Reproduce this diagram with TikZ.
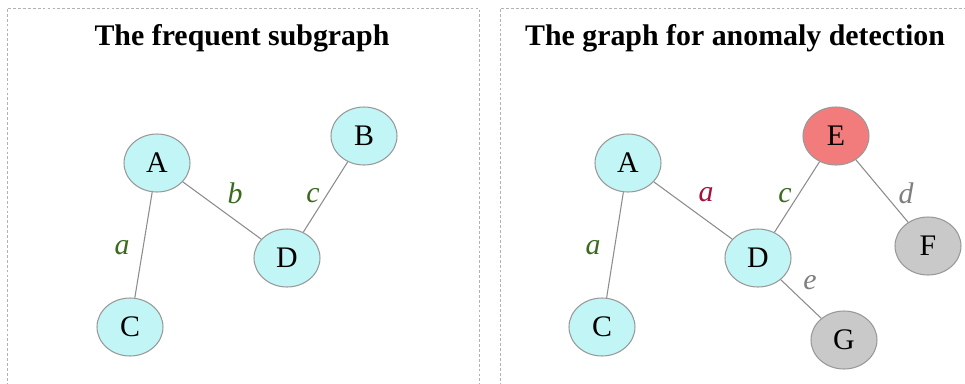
\documentclass[tikz,border=0pt]{standalone}
\usepackage{fontspec}
\setmainfont{Liberation Serif}
\usepackage{xcolor}
\usepackage{tikz}
\usetikzlibrary{shapes.geometric, positioning, calc}

\definecolor{nodecyan}{HTML}{C2F5F5}
\definecolor{nodered}{HTML}{F27C7C}
\definecolor{nodegray}{HTML}{C9C9C9}
\definecolor{labelgreen}{HTML}{3B6A1E}
\definecolor{labelred}{HTML}{A3123A}
\definecolor{labelgray}{HTML}{7F7F7F}

\begin{document}
\begin{tikzpicture}[
    x=0.02cm, y=-0.02cm,
    % ellipse nodes of both graphs
    graphnode/.style={ellipse, draw=gray!80, fill=nodecyan, line width=0.6pt, minimum width=1.32cm, minimum height=1.16cm, inner sep=0pt, font=\fontsize{17}{19}\selectfont},
    rednode/.style={graphnode, fill=nodered},
    graynode/.style={graphnode, fill=nodegray},
    edge/.style={draw=gray!90, line width=0.6pt},
    edgelabel/.style={font=\fontsize{17}{19}\selectfont\itshape, color=labelgreen},
    paneltitle/.style={font=\fontsize{17}{20}\selectfont\bfseries, color=black, anchor=center},
    panel/.style={draw=gray!60, line width=0.5pt, dash pattern=on 1.6pt off 1.2pt}
]
\clip (0,0) rectangle (965,383);
\fill[white] (0,0) rectangle (965,383);

% =========================================================
% PANEL A: FREQUENT SUBGRAPH (Left Side)
% =========================================================
\draw[panel] (7,420) -- (7,8) -- (479,8) -- (479,420);
\node[paneltitle] (title_a) at (242,38) {The frequent subgraph};

\node[graphnode] (a_l) at (157,163) {A};
\node[graphnode] (b_l) at (364,136) {B};
\node[graphnode] (c_l) at (130,327) {C};
\node[graphnode] (d_l) at (287,258) {D};

\draw[edge] (a_l) -- (c_l);
\draw[edge] (a_l) -- (d_l);
\draw[edge] (d_l) -- (b_l);

\node[edgelabel] (lab_ac_l) at (122,248) {a};
\node[edgelabel] (lab_ad_l) at (235,193) {b};
\node[edgelabel] (lab_db_l) at (313,196) {c};

% =========================================================
% PANEL B: ANOMALY DETECTION GRAPH (Right Side)
% =========================================================
\draw[panel] (500,420) -- (500,8) -- (1000,8);
\node[paneltitle] (title_b) at (735,38) {The graph for anomaly detection};

\node[graphnode] (a_r) at (628,163) {A};
\node[rednode] (e_r) at (836,136) {E};
\node[graphnode] (c_r) at (602,327) {C};
\node[graphnode] (d_r) at (758,258) {D};
\node[graynode] (f_r) at (928,246) {F};
\node[graynode] (g_r) at (844,340) {G};

\draw[edge] (a_r) -- (c_r);
\draw[edge] (a_r) -- (d_r);
\draw[edge] (d_r) -- (e_r);
\draw[edge] (e_r) -- (f_r);
\draw[edge] (d_r) -- (g_r);

\node[edgelabel] (lab_ac_r) at (593,248) {a};
\node[edgelabel, color=labelred] (lab_ad_r) at (706,195) {a};
\node[edgelabel] (lab_de_r) at (785,196) {c};
\node[edgelabel, color=labelgray] (lab_ef_r) at (906,193) {d};
\node[edgelabel, color=labelgray] (lab_dg_r) at (810,283) {e};

\end{tikzpicture}
\end{document}
